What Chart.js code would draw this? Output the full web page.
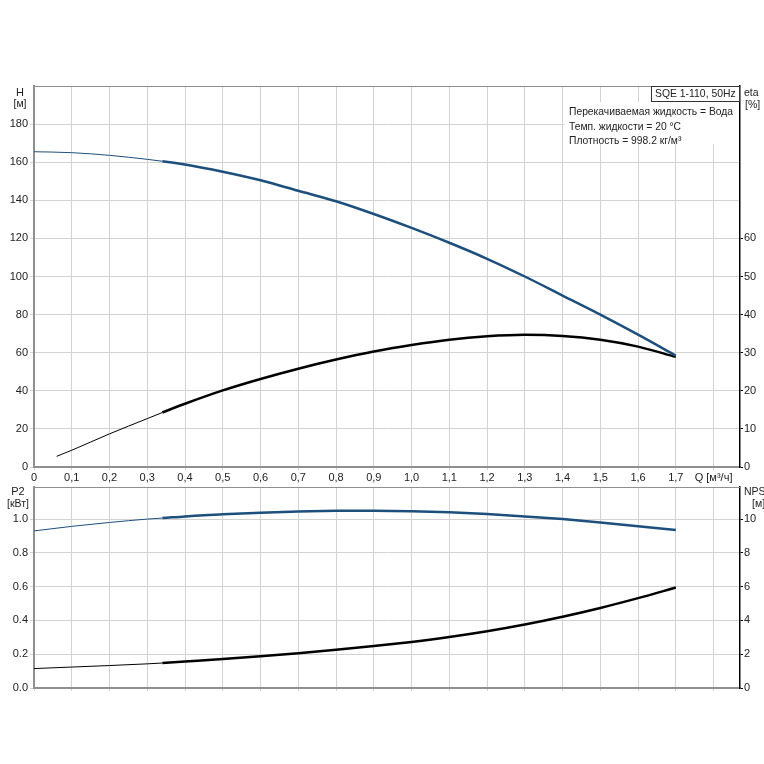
<!DOCTYPE html>
<html>
<head>
<meta charset="utf-8">
<script src="https://cdn.jsdelivr.net/npm/chart.js@4"></script>
<style>
  html, body { margin: 0; padding: 0; background: #fff; }
  #wrap { position: relative; width: 764px; height: 764px; }
  canvas { position: absolute; left: 0; }
  #top-chart { top: 0; }
  #bottom-chart { top: 484px; }
</style>
</head>
<body>
<div id="wrap">
  <canvas id="top-chart" width="764" height="484"></canvas>
  <canvas id="bottom-chart" width="764" height="280"></canvas>
</div>
<script>
// flow axis ticks
let q_ticks = [0, 0.1, 0.2, 0.3, 0.4, 0.5, 0.6, 0.7, 0.8, 0.9, 1.0, 1.1, 1.2, 1.3, 1.4, 1.5, 1.6, 1.7, 1.8];
let h_ticks = [0, 20, 40, 60, 80, 100, 120, 140, 160, 180];
let eta_ticks = [0, 10, 20, 30, 40, 50, 60];
let p2_ticks = [0, 0.2, 0.4, 0.6, 0.8, 1.0];
let npsh_ticks = [0, 2, 4, 6, 8, 10];

// curve data
let q_points = [0, 0.1, 0.2, 0.3, 0.34, 0.4, 0.5, 0.6, 0.7, 0.8, 0.9, 1.0, 1.1, 1.2, 1.3, 1.4, 1.5, 1.6, 1.7];
let h_values = [165.5, 165, 163.6, 161.5, 160.5, 158.8, 155, 150.5, 145, 139.5, 132.8, 125.5, 117.7, 109.3, 100, 90, 80, 69.5, 58.5];
let q_eta = [0.06, 0.1, 0.2, 0.3, 0.34, 0.4, 0.5, 0.6, 0.7, 0.8, 0.9, 1.0, 1.1, 1.2, 1.3, 1.4, 1.5, 1.6, 1.7];
let eta_values = [2.8, 4.4, 8.7, 12.7, 14.3, 16.6, 20.1, 23.1, 25.8, 28.2, 30.3, 32, 33.4, 34.3, 34.7, 34.4, 33.4, 31.6, 28.9];
let p2_values = [0.93, 0.957, 0.98, 1.0, 1.006, 1.016, 1.028, 1.038, 1.045, 1.049, 1.05, 1.047, 1.04, 1.03, 1.016, 1.0, 0.98, 0.958, 0.935];
let npsh_values = [1.15, 1.24, 1.33, 1.43, 1.48, 1.57, 1.72, 1.88, 2.06, 2.26, 2.48, 2.73, 3.02, 3.36, 3.76, 4.22, 4.74, 5.32, 5.95];

let BLUE = "#1d4f7d";
let GRID = "#d2d2d2";
let AXIS_GRAY = "#8f8f8f";
let FONT = { family: "'Liberation Sans', Arial, sans-serif", size: 11 };

function points(xs, ys) {
  return xs.map(function (x, i) {
    return { x: x, y: ys[i] };
  });
}

// thin line up to ~0.34, thick after
function curve(label, data, color, axis) {
  return {
    label: label,
    data: data,
    yAxisID: axis,
    borderColor: color,
    borderWidth: 2.5,
    pointRadius: 0,
    cubicInterpolationMode: "monotone",
    segment: {
      borderWidth: function (ctx) {
        return ctx.p0.parsed.x < 0.335 ? 1 : 2.5;
      },
    },
  };
}

function fixedTicks(list) {
  return function (scale) {
    scale.ticks = list.map(function (v) {
      return { value: v };
    });
  };
}

// draws axis titles, frame top line and the info box
function textPlugin(items, frame) {
  return {
    id: "texts",
    afterDraw: function (chart) {
      let ctx = chart.ctx;
      let area = chart.chartArea;
      ctx.save();
      ctx.strokeStyle = AXIS_GRAY;
      ctx.lineWidth = 1;
      ctx.beginPath();
      ctx.moveTo(area.left, area.top + 0.5);
      ctx.lineTo(area.right, area.top + 0.5);
      ctx.stroke();
      if (frame) frame(ctx, area);
      ctx.fillStyle = "#222";
      ctx.textBaseline = "middle";
      items.forEach(function (t) {
        ctx.font = (t.size || 11) + "px 'Liberation Sans', Arial, sans-serif";
        ctx.textAlign = t.align || "center";
        ctx.fillText(t.text, t.x, t.y);
      });
      ctx.restore();
    },
  };
}

function scaleX(showLabels, height) {
  return {
    type: "linear",
    min: 0,
    max: 1.87,
    afterBuildTicks: fixedTicks(q_ticks),
    afterFit: function (s) {
      s.height = height;
    },
    ticks: {
      display: showLabels,
      font: FONT,
      color: "#222",
      padding: 1,
      maxRotation: 0,
      autoSkip: false,
      callback: function (value) {
        if (Math.round(value * 10) == 18) return "Q [м³/ч]";
        if (value == 0) return "0";
        return value.toFixed(1).replace(".", ",");
      },
    },
    grid: { color: GRID, tickLength: 3 },
    border: { color: AXIS_GRAY, width: 2 },
  };
}

function scaleLeft(min, max, list, fmt) {
  return {
    position: "left",
    min: min,
    max: max,
    afterBuildTicks: fixedTicks(list),
    afterFit: function (s) {
      s.width = 34;
      s.paddingTop = 0;
      s.paddingBottom = 0;
    },
    ticks: { font: FONT, color: "#222", padding: 2, callback: fmt },
    grid: { color: GRID, tickLength: 4 },
    border: { color: AXIS_GRAY, width: 2 },
  };
}

function scaleRight(min, max, list) {
  return {
    position: "right",
    min: min,
    max: max,
    afterBuildTicks: fixedTicks(list),
    afterFit: function (s) {
      s.width = 24;
      s.paddingTop = 0;
      s.paddingBottom = 0;
    },
    ticks: { font: FONT, color: "#222", padding: 1 },
    grid: { drawOnChartArea: false, color: "#000", tickLength: 3 },
    border: { color: "#000", width: 1.5 },
  };
}

function baseOptions() {
  return {
    responsive: false,
    animation: false,
    plugins: { legend: { display: false }, tooltip: { enabled: false } },
  };
}

let topOptions = baseOptions();
topOptions.layout = { padding: { top: 86, left: 0, right: 0, bottom: 0 } };
topOptions.scales = {
  x: scaleX(true, 17),
  y: scaleLeft(0, 200, h_ticks, function (v) {
    return v;
  }),
  y1: scaleRight(0, 100, eta_ticks),
};

let infoBox = function (ctx, area) {
  ctx.fillStyle = "#fff";
  ctx.fillRect(565, 102, area.right - 566, 42);
  ctx.fillRect(651.5, 86.5, area.right - 652, 15);
  ctx.strokeStyle = "#333";
  ctx.lineWidth = 1;
  ctx.strokeRect(651.5, 86.5, area.right - 652, 15);
};

new Chart(document.getElementById("top-chart"), {
  type: "line",
  data: {
    datasets: [
      curve("H", points(q_points, h_values), BLUE, "y"),
      curve("eta", points(q_eta, eta_values), "#000", "y1"),
    ],
  },
  options: topOptions,
  plugins: [
    textPlugin(
      [
        { text: "H", x: 20, y: 93 },
        { text: "[м]", x: 20, y: 104, size: 10.5 },
        { text: "eta", x: 744, y: 93, align: "left", size: 10.5 },
        { text: "[%]", x: 745, y: 105, align: "left", size: 10.5 },
        { text: "SQE 1-110, 50Hz", x: 655, y: 94, align: "left", size: 10.4 },
        { text: "Перекачиваемая жидкость = Вода", x: 569, y: 112, align: "left", size: 10.3 },
        { text: "Темп. жидкости = 20 °C", x: 569, y: 127, align: "left", size: 10.3 },
        { text: "Плотность = 998.2 кг/м³", x: 569, y: 141, align: "left", size: 10.3 },
      ],
      infoBox
    ),
  ],
});

let bottomOptions = baseOptions();
bottomOptions.layout = { padding: { top: 3, left: 0, right: 0, bottom: 0 } };
bottomOptions.scales = {
  x: scaleX(false, 76),
  y: scaleLeft(0, 1.19, p2_ticks, function (v) {
    return v.toFixed(1);
  }),
  y1: scaleRight(0, 11.9, npsh_ticks),
};

new Chart(document.getElementById("bottom-chart"), {
  type: "line",
  data: {
    datasets: [
      curve("P2", points(q_points, p2_values), BLUE, "y"),
      curve("NPSH", points(q_points, npsh_values), "#000", "y1"),
    ],
  },
  options: bottomOptions,
  plugins: [
    textPlugin([
      { text: "P2", x: 18, y: 8 },
      { text: "[кВт]", x: 18, y: 20, size: 10.5 },
      { text: "NPS", x: 744, y: 8, align: "left", size: 10.5 },
      { text: "[м]", x: 752, y: 20, align: "left", size: 10.5 },
    ]),
  ],
});
</script>
</body>
</html>
